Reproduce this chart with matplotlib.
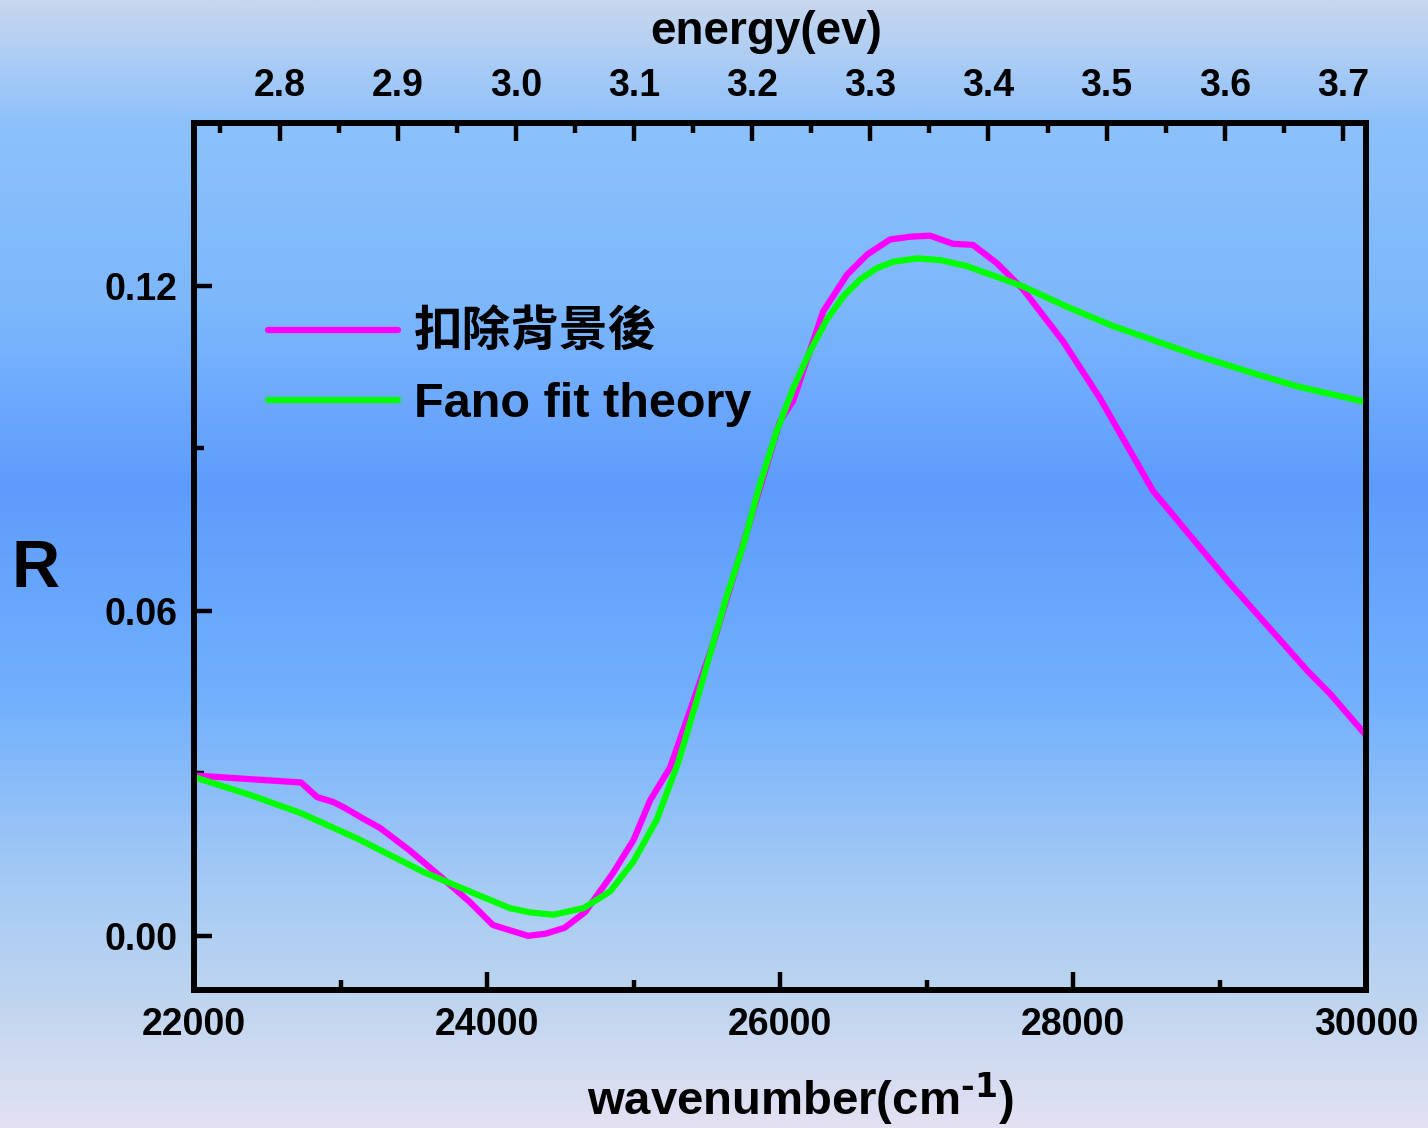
import numpy as np
import matplotlib
matplotlib.use('Agg')
import matplotlib.pyplot as plt
import matplotlib.ticker as mtick
from matplotlib.colors import to_rgb
from matplotlib.font_manager import FontProperties

# measured reflectance after background subtraction
wn_data = [22000, 22730, 22840, 22950, 23030, 23150, 23270, 23470, 23680, 23880,
           24040, 24280, 24400, 24530, 24670, 24860, 25000, 25113, 25250, 25386,
           25543, 25659, 25816, 26000, 26089, 26294, 26457, 26594, 26751, 26887,
           27024, 27181, 27317, 27481, 27659, 27932, 28184, 28546, 29072, 29597,
           29754, 30000]
r_data = [0.0296, 0.0283, 0.0256, 0.0247, 0.0236, 0.0217, 0.0199, 0.0158, 0.0110, 0.0063,
          0.0020, 0.0000, 0.0004, 0.0015, 0.0044, 0.0116, 0.0177, 0.0250, 0.0311, 0.0416,
          0.0539, 0.0642, 0.0784, 0.0950, 0.0987, 0.1152, 0.1220, 0.1257, 0.1285, 0.1290,
          0.1292, 0.1277, 0.1275, 0.1241, 0.1193, 0.1097, 0.0992, 0.0821, 0.0650, 0.0490,
          0.0447, 0.0370]

# Fano lineshape fit
wn_fit = [22000, 22382, 22724, 23111, 23565, 23907, 24157, 24300, 24453, 24658,
          24840, 24999, 25158, 25305, 25431, 25568, 25636, 25750, 25863, 25977,
          26091, 26205, 26319, 26432, 26546, 26660, 26774, 26933, 27092, 27274,
          27365, 27502, 27661, 27957, 28275, 28571, 28867, 29186, 29527, 30000]
r_fit = [0.0293, 0.0260, 0.0227, 0.0180, 0.0118, 0.0079, 0.0051, 0.0043, 0.0039, 0.0051,
         0.0082, 0.0137, 0.0214, 0.0320, 0.0434, 0.0563, 0.0626, 0.0722, 0.0833, 0.0931,
         0.1011, 0.1079, 0.1137, 0.1180, 0.1211, 0.1232, 0.1244, 0.1250, 0.1247, 0.1236,
         0.1227, 0.1214, 0.1198, 0.1161, 0.1125, 0.1097, 0.1069, 0.1042, 0.1014, 0.0985]

EV_PER_CM = 8065.54

# background gradient stops (fraction from top, colour)
bg_pos = [0.0, 0.11, 0.27, 0.43, 0.62, 0.78, 0.88, 1.0]
bg_col = ['#c8d7ee', '#8cc1fb', '#7db8fc', '#5d9cfd', '#72b0fc', '#a4caf5', '#bcd4ef', '#e4e1f3']

FONT = 'Liberation Sans'
plt.rcParams['font.family'] = [FONT, 'Noto Sans CJK TC', 'DejaVu Sans']
plt.rcParams['font.weight'] = 'bold'
plt.rcParams['axes.unicode_minus'] = False

fig = plt.figure(figsize=(14.28, 11.28), dpi=100)

# gradient backdrop
bg_ax = fig.add_axes([0, 0, 1, 1], zorder=-10)
rows = np.linspace(0, 1, 600)
cols = np.array([to_rgb(c) for c in bg_col])
grad = np.stack([np.interp(rows, bg_pos, cols[:, k]) for k in range(3)], axis=-1)
bg_ax.imshow(grad[:, None, :], aspect='auto', extent=[0, 1, 0, 1], origin='upper')
bg_ax.axis('off')

ax = fig.add_axes([0.1359, 0.1223, 0.8207, 0.7687])
ax.set_facecolor('none')

ax.plot(wn_data, r_data, color='#ff00ff', lw=4.5, label='扣除背景後')
ax.plot(wn_fit, r_fit, color='#00ff00', lw=4.5, label='Fano fit theory')

ax.set_xlim(22000, 30000)
ax.set_ylim(-0.01, 0.15)

for s in ax.spines.values():
    s.set_linewidth(4.3)

ax.xaxis.set_major_locator(mtick.MultipleLocator(2000))
ax.xaxis.set_minor_locator(mtick.MultipleLocator(1000))
ax.yaxis.set_major_locator(mtick.FixedLocator([0.0, 0.06, 0.12]))
ax.yaxis.set_minor_locator(mtick.FixedLocator([0.03, 0.09]))
ax.yaxis.set_major_formatter(mtick.FormatStrFormatter('%.2f'))
ax.tick_params(which='both', direction='in', top=False, right=False, width=3.2)
ax.tick_params(which='major', length=13, labelsize=27, pad=12)
ax.tick_params(which='minor', length=7)
for lab in ax.get_xticklabels() + ax.get_yticklabels():
    lab.set_fontweight('bold')

ax.set_xlabel('wavenumber(cm$^{\\text{-1}}$)', fontsize=34, fontweight='bold', labelpad=20, x=0.517)
ax.set_ylabel('R', fontsize=48, fontweight='bold', rotation=0, ha='center', va='center')
ax.yaxis.set_label_coords(-0.135, 0.485)

# energy scale on top
top = ax.secondary_xaxis('top', functions=(lambda x: np.asarray(x) / EV_PER_CM,
                                            lambda e: np.asarray(e) * EV_PER_CM))
top.xaxis.set_major_locator(mtick.FixedLocator(np.round(np.arange(2.8, 3.75, 0.1), 2)))
top.xaxis.set_minor_locator(mtick.FixedLocator(np.round(np.arange(2.75, 3.72, 0.05), 2)))
top.xaxis.set_major_formatter(mtick.FormatStrFormatter('%.1f'))
top.tick_params(which='both', direction='in', width=3.2)
top.tick_params(which='major', length=13, labelsize=27, pad=14)
top.tick_params(which='minor', length=7)
top.spines['top'].set_linewidth(4.3)
for lab in top.get_xticklabels():
    lab.set_fontweight('bold')
top.set_xlabel('energy(ev)', fontsize=33, fontweight='bold', labelpad=17, x=0.488)

leg_font = FontProperties(family=[FONT, 'Noto Sans CJK TC'], weight='bold', size=35)
leg = ax.legend(loc='upper left', bbox_to_anchor=(0.063, 0.784), frameon=False, prop=leg_font,
                handlelength=2.67, handletextpad=0.33, labelspacing=0.52,
                borderpad=0, borderaxespad=0)
for line in leg.get_lines():
    line.set_linewidth(4.5)
    line.set_solid_capstyle('round')

fig.savefig('out.png', dpi=100)
